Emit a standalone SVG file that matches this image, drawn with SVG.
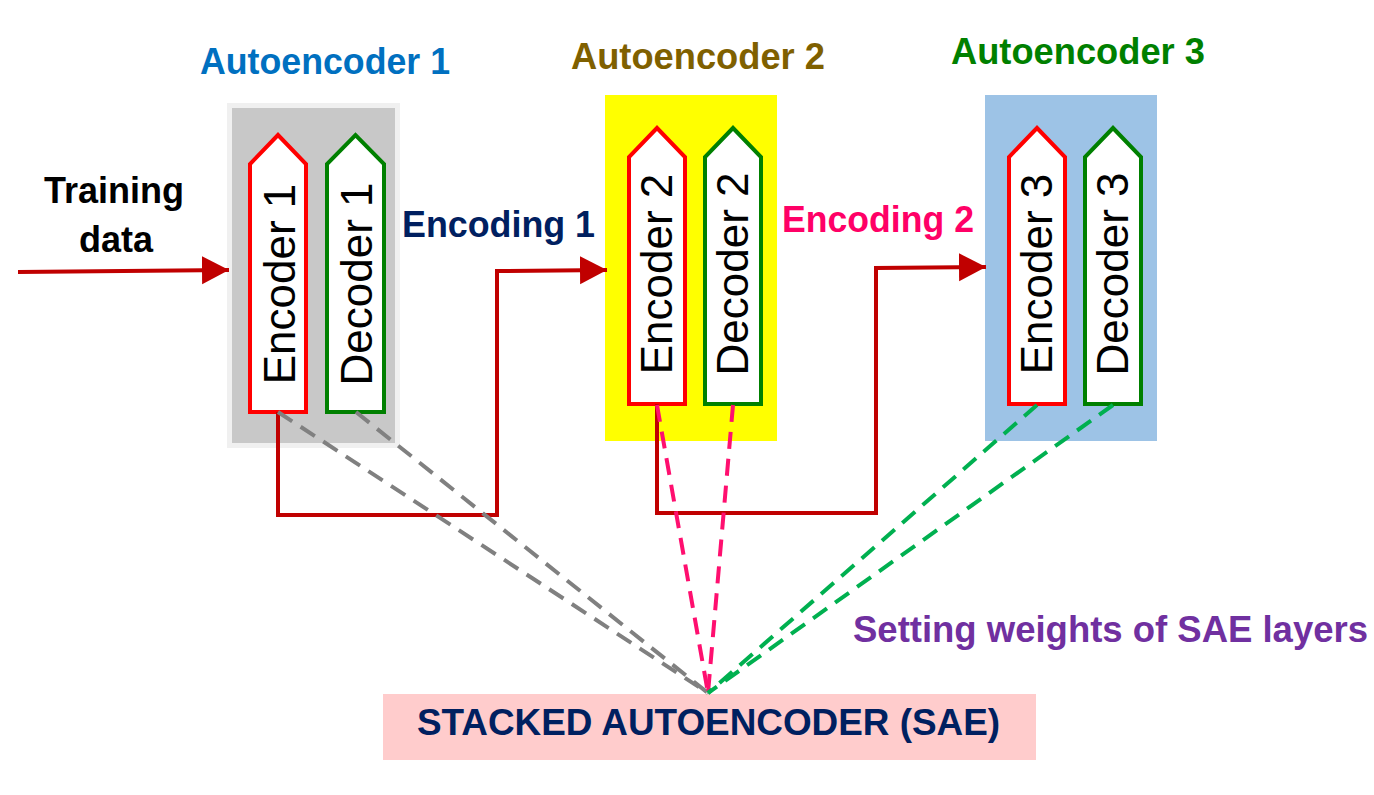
<svg xmlns="http://www.w3.org/2000/svg" width="1374" height="795" viewBox="0 0 1374 795">
<style>
text{font-family:"Liberation Sans",Arial,sans-serif;}
.hdr{font-size:36px;font-weight:bold;text-anchor:start;}
.lbl{font-size:36px;font-weight:bold;}
.enc{fill:#fff;stroke:#ff0000;stroke-width:4;}
.dec{fill:#fff;stroke:#008000;stroke-width:4;}
.vt{font-size:44px;fill:#000;text-anchor:middle;}
.red{fill:none;stroke:#c00000;stroke-width:4;}
.dash{fill:none;stroke-width:4;stroke-dasharray:17 10;}
</style>
<defs>
<marker id="ah" markerUnits="userSpaceOnUse" markerWidth="28" markerHeight="30" refX="27" refY="14" orient="auto">
<path d="M0,0 L27,14 L0,28 Z" fill="#c00000"/>
</marker>
</defs>
<rect width="1374" height="795" fill="#fff"/>

<g id="autoencoder1">
<rect x="229.5" y="105.5" width="168" height="340" fill="#c8c8c8" stroke="#f0f0f0" stroke-width="5"/>
<text class="hdr" x="200" y="74" fill="#0070c0" textLength="250" lengthAdjust="spacingAndGlyphs">Autoencoder 1</text>
</g>
<g id="encoder1">
<path class="enc" d="M250,412 L250,164 L278,135 L306,164 L306,412 Z"/>
<text class="vt" transform="translate(295,284) rotate(-90)">Encoder 1</text>
</g>
<g id="decoder1">
<path class="dec" d="M327,412 L327,164 L355.5,135 L384,164 L384,412 Z"/>
<text class="vt" transform="translate(372,284) rotate(-90)">Decoder 1</text>
</g>

<g id="autoencoder2">
<rect x="605" y="95" width="172" height="346" fill="#ffff00"/>
<text class="hdr" x="571" y="69" fill="#7f6000" textLength="254" lengthAdjust="spacingAndGlyphs">Autoencoder 2</text>
</g>
<g id="encoder2">
<path class="enc" d="M629,404 L629,157 L657,128 L685,157 L685,404 Z"/>
<text class="vt" transform="translate(672,274) rotate(-90)">Encoder 2</text>
</g>
<g id="decoder2">
<path class="dec" d="M705,404 L705,157 L733,128 L761,157 L761,404 Z"/>
<text class="vt" transform="translate(748,274) rotate(-90)">Decoder 2</text>
</g>

<g id="autoencoder3">
<rect x="985" y="95" width="172" height="346" fill="#9dc3e6"/>
<text class="hdr" x="951" y="64" fill="#008000" textLength="254" lengthAdjust="spacingAndGlyphs">Autoencoder 3</text>
</g>
<g id="encoder3">
<path class="enc" d="M1009,404 L1009,157 L1037,128 L1065,157 L1065,404 Z"/>
<text class="vt" transform="translate(1052,274) rotate(-90)">Encoder 3</text>
</g>
<g id="decoder3">
<path class="dec" d="M1085,404 L1085,157 L1113,128 L1141,157 L1141,404 Z"/>
<text class="vt" transform="translate(1128,274) rotate(-90)">Decoder 3</text>
</g>

<g id="training-data">
<text class="lbl" x="114" y="203" text-anchor="middle" fill="#000">Training</text>
<text class="lbl" x="116" y="252" text-anchor="middle" fill="#000">data</text>
</g>
<g id="encoding1-label">
<text class="lbl" x="402" y="237" fill="#002060" textLength="193" lengthAdjust="spacingAndGlyphs">Encoding 1</text>
</g>
<g id="encoding2-label">
<text class="lbl" x="782" y="232" fill="#ff0066" textLength="192" lengthAdjust="spacingAndGlyphs">Encoding 2</text>
</g>
<g id="setting-label">
<text class="lbl" x="853" y="642" fill="#7030a0" textLength="515" lengthAdjust="spacingAndGlyphs">Setting weights of SAE layers</text>
</g>

<g id="sae">
<rect x="383" y="694" width="653" height="66" fill="#ffcccc"/>
<text class="lbl" x="417" y="735" font-size="37" fill="#002060" textLength="583" lengthAdjust="spacingAndGlyphs">STACKED AUTOENCODER (SAE)</text>
</g>

<g id="connectors">
<path class="red" d="M18,272 L229,270" marker-end="url(#ah)"/>
<path class="red" d="M278,412 L278,515 L497,515 L497,271 L607,270" marker-end="url(#ah)"/>
<path class="red" d="M657,404 L657,513 L876,513 L876,268 L986,267" marker-end="url(#ah)"/>
<path class="dash" stroke="#808080" d="M278,412 L708,693"/>
<path class="dash" stroke="#808080" d="M356,412 L708,693"/>
<path class="dash" stroke="#ff0f6f" d="M657,405 L708,693"/>
<path class="dash" stroke="#ff0f6f" d="M733,405 L708,693"/>
<path class="dash" stroke="#00b050" d="M1037,405 L708,693"/>
<path class="dash" stroke="#00b050" d="M1113,405 L708,693"/>
</g>
</svg>
